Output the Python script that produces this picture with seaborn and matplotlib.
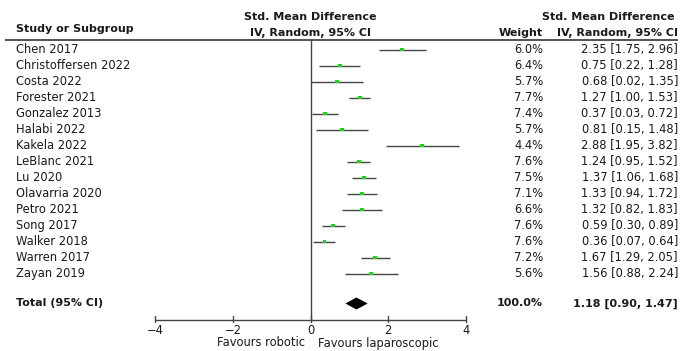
import matplotlib
matplotlib.use("Agg")
import matplotlib.pyplot as plt
import seaborn as sns
import pandas as pd
import numpy as np

studies = ["Chen 2017", "Christoffersen 2022", "Costa 2022", "Forester 2021",
           "Gonzalez 2013", "Halabi 2022", "Kakela 2022", "LeBlanc 2021",
           "Lu 2020", "Olavarria 2020", "Petro 2021", "Song 2017",
           "Walker 2018", "Warren 2017", "Zayan 2019"]
smd = [2.35, 0.75, 0.68, 1.27, 0.37, 0.81, 2.88, 1.24, 1.37, 1.33, 1.32, 0.59, 0.36, 1.67, 1.56]
lower = [1.75, 0.22, 0.02, 1.00, 0.03, 0.15, 1.95, 0.95, 1.06, 0.94, 0.82, 0.30, 0.07, 1.29, 0.88]
upper = [2.96, 1.28, 1.35, 1.53, 0.72, 1.48, 3.82, 1.52, 1.68, 1.72, 1.83, 0.89, 0.64, 2.05, 2.24]
weights = [6.0, 6.4, 5.7, 7.7, 7.4, 5.7, 4.4, 7.6, 7.5, 7.1, 6.6, 7.6, 7.6, 7.2, 5.6]
total_est, total_lo, total_hi = 1.18, 0.90, 1.47
xticks = [-4, -2, 0, 2, 4]
favours_left = "Favours robotic"
favours_right = "Favours laparoscopic"

sns.set_theme(style="white")
plt.rcParams['font.family'] = ['DejaVu Sans']

W, H = 680, 351
fig = plt.figure(figsize=(W / 100, H / 100), dpi=100)
ax = fig.add_axes([0, 0, 1, 1])
# x in data units: -4 -> 155px, 4 -> 466px
ppu = (466 - 155) / 8.0
ax.set_xlim(-4 - 155 / ppu, -4 + (W - 155) / ppu)
ax.set_ylim(H, 0)  # y in pixel rows
ax.axis("off")

def px(p):
    return -4 + (p - 155) / ppu

df = pd.DataFrame({"study": studies, "smd": smd, "lo": lower, "hi": upper, "w": weights})
row0, step = 49.5, 16.0
df["y"] = row0 + step * np.arange(len(df))
y_total = 303.5
y_axis = 319.5

fs = 8.3
fsb = 8.0
tc = "#1a1a1a"
lc = "#444444"

# header
ax.text(px(16), 32, "Study or Subgroup", fontsize=fsb, fontweight="bold", color=tc, va="baseline")
ax.text(0, 20, "Std. Mean Difference", fontsize=fsb, fontweight="bold", color=tc, ha="center", va="baseline")
ax.text(0, 36, "IV, Random, 95% CI", fontsize=fsb, fontweight="bold", color=tc, ha="center", va="baseline")
ax.text(px(543), 36, "Weight", fontsize=fsb, fontweight="bold", color=tc, ha="right", va="baseline")
ax.text(px(675), 20, "Std. Mean Difference", fontsize=fsb, fontweight="bold", color=tc, ha="right", va="baseline")
ax.text(px(678), 36, "IV, Random, 95% CI", fontsize=fsb, fontweight="bold", color=tc, ha="right", va="baseline")
ax.plot([px(5), px(678)], [40, 40], color=lc, lw=1.3, solid_capstyle="butt")

# zero line
ax.plot([0, 0], [40, y_axis], color=lc, lw=1.0)

# CI lines
ax.hlines(df["y"], df["lo"], df["hi"], color=lc, lw=1.0)
sns.scatterplot(data=df, x="smd", y="y", marker="s", s=8, color="#11dd11",
                edgecolor="none", ax=ax, legend=False, zorder=3)

for _, r in df.iterrows():
    ax.text(px(16), r["y"], r["study"], fontsize=fs, color=tc, va="center")
    ax.text(px(543), r["y"], f"{r['w']:.1f}%", fontsize=fs, color=tc, ha="right", va="center")
    ax.text(px(678), r["y"], f"{r['smd']:.2f} [{r['lo']:.2f}, {r['hi']:.2f}]",
            fontsize=fs, color=tc, ha="right", va="center")

# total
ax.text(px(16), y_total, "Total (95% CI)", fontsize=fsb, fontweight="bold", color=tc, va="center")
ax.text(px(543), y_total, "100.0%", fontsize=fsb, fontweight="bold", color=tc, ha="right", va="center")
ax.text(px(678), y_total, f"{total_est:.2f} [{total_lo:.2f}, {total_hi:.2f}]",
        fontsize=fsb, fontweight="bold", color=tc, ha="right", va="center")
ax.fill([total_lo, total_est, total_hi, total_est],
        [y_total, y_total - 6, y_total, y_total + 6], color="black", lw=0)

# x axis
ax.plot([xticks[0], xticks[-1]], [y_axis, y_axis], color=lc, lw=1.0)
for t in xticks:
    ax.plot([t, t], [y_axis - 4, y_axis + 2], color=lc, lw=1.0)
    lab = f"{t}".replace("-", "\u2212")
    ax.text(t, y_axis + 4, lab, fontsize=fs, color=tc, ha="center", va="top")
ax.text(px(305), 343, favours_left, fontsize=fs, color=tc, ha="right", va="center")
ax.text(px(318), 343, favours_right, fontsize=fs, color=tc, ha="left", va="center")

fig.savefig("out.png", dpi=100)
